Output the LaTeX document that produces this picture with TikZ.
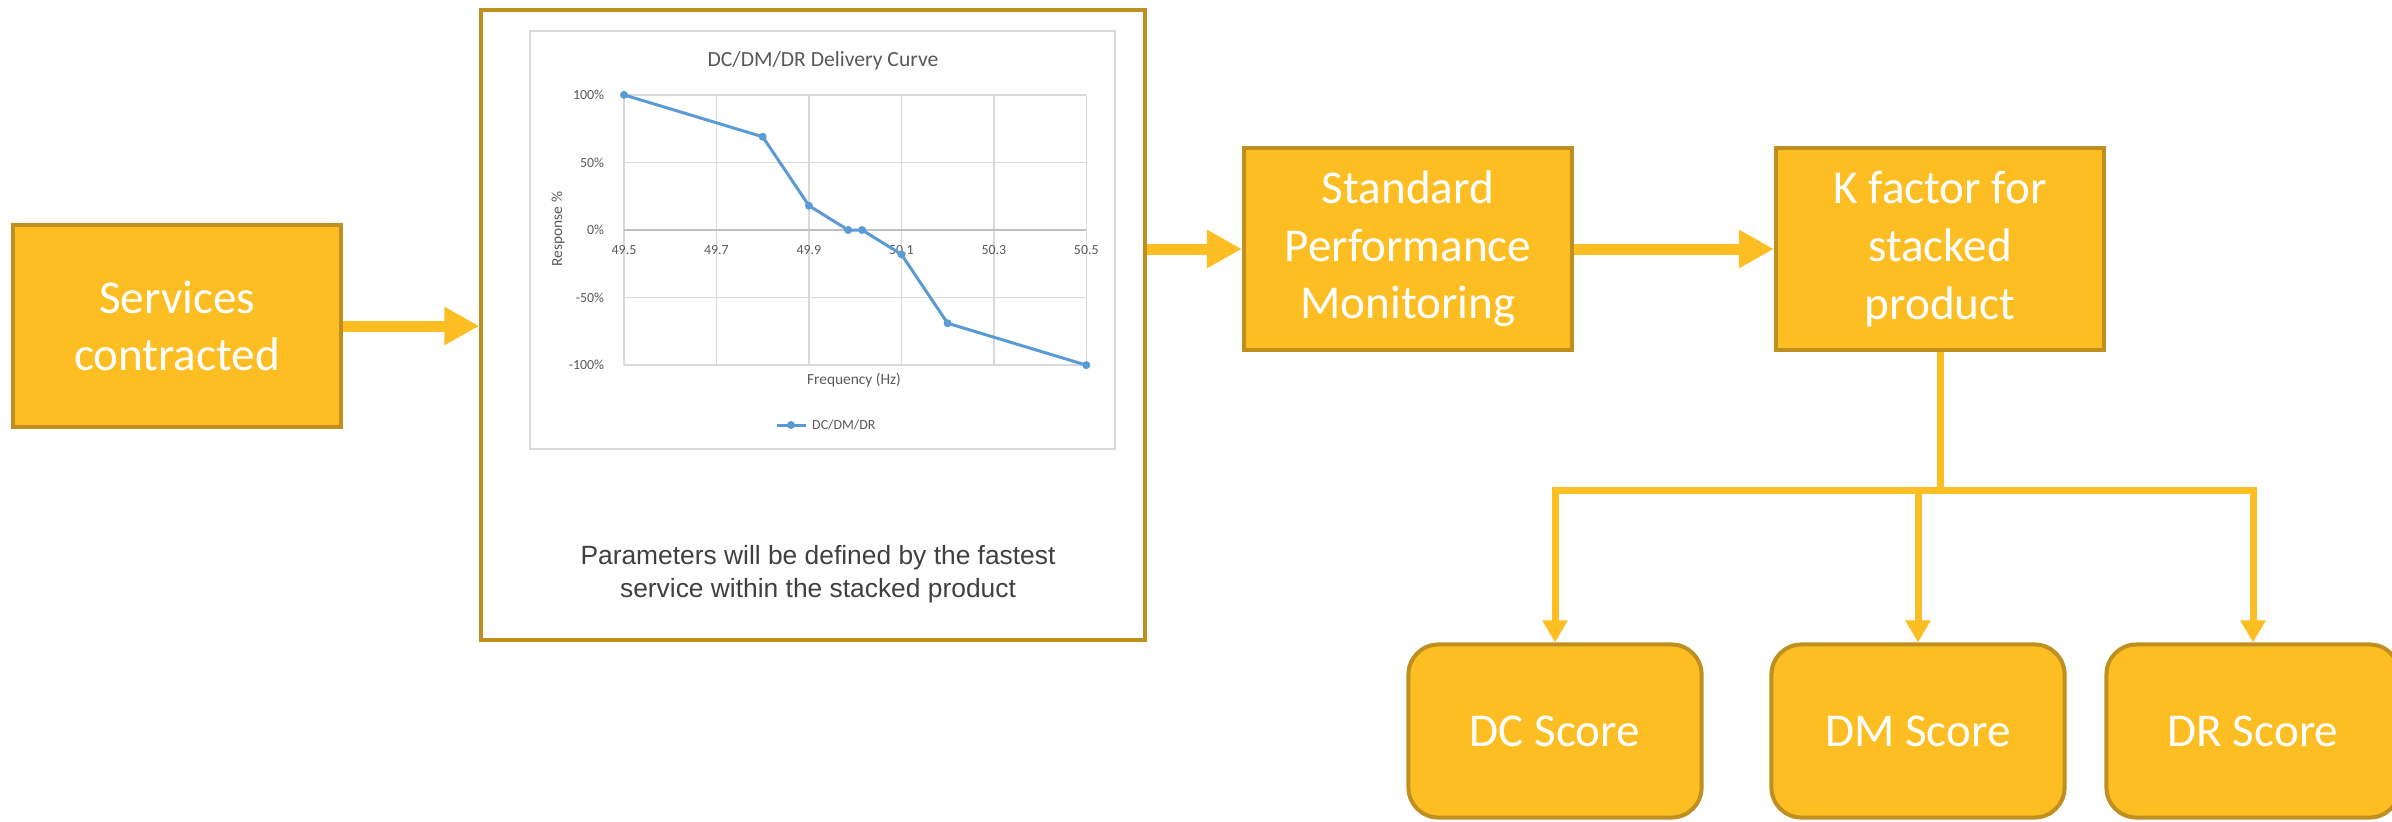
\documentclass[tikz,border=0pt]{standalone}
\usepackage{fontspec}
\setmainfont{Carlito}
\newfontfamily\capfont{Liberation Sans}
\usetikzlibrary{arrows.meta}

\definecolor{boxfill}{RGB}{253,190,35}
\definecolor{boxline}{RGB}{191,143,31}
\definecolor{curveblue}{RGB}{91,155,213}
\definecolor{gridgrey}{RGB}{217,217,217}
\definecolor{axisgrey}{RGB}{191,191,191}
\definecolor{labelgrey}{RGB}{89,89,89}
\definecolor{captiongrey}{RGB}{64,64,64}

\begin{document}
\begin{tikzpicture}[x=0.01cm,y=-0.01cm,
    block/.style={rectangle,draw=boxline,fill=boxfill,line width=0.04cm,
      text=white,align=center,inner sep=0pt,
      minimum width=3.28cm,minimum height=2.01cm,
      font=\fontsize{13.4}{16.4}\selectfont},
    score/.style={block,rounded corners=0.3cm,minimum width=2.93cm,minimum height=1.73cm},
    bigarrow/.style={draw=boxfill,line width=0.11cm,-{Triangle[length=0.35cm,width=0.36cm]}},
    branch/.style={draw=boxfill,line width=0.07cm},
    branchtip/.style={branch,-{Triangle[length=0.22cm,width=0.24cm]}},
    ticklabel/.style={text=labelgrey,inner sep=1pt,font=\fontsize{3.95}{4.7}\selectfont},
    axistitle/.style={text=labelgrey,inner sep=1pt,font=\fontsize{4.38}{5.2}\selectfont},
    charttitle/.style={text=labelgrey,inner sep=1pt,font=\fontsize{6.15}{7.4}\selectfont},
    caption/.style={text=captiongrey,align=center,inner sep=0pt,
      font=\capfont\fontsize{7.5}{9.4}\selectfont}]

  \useasboundingbox (0,0) rectangle (2392,821);

  \node[block] (svc) at (177,326) {Services\\contracted};
  \node[rectangle,draw=boxline,fill=white,line width=0.04cm,
    minimum width=6.63cm,minimum height=6.30cm] (chart) at (813,325) {};
  \node[block] (spm) at (1408,249) {Standard\\Performance\\Monitoring};
  \node[block] (kf) at (1940,249) {K factor for\\stacked\\product};
  \node[score] (dc) at (1555,731) {DC Score};
  \node[score] (dm) at (1918,731) {DM Score};
  \node[score] (dr) at (2253,731) {DR Score};
  \coordinate (fork) at (1940,490);

  \draw[gridgrey,line width=0.02cm] (530,31) rectangle (1115,449);
  \begin{scope}[shift={(624,230)},x=4.62cm,y=0.0135cm]
    \foreach \i in {0,...,5}
      \draw[gridgrey,line width=0.015cm] (\i*0.2,-100) -- (\i*0.2,100);
    \foreach \gy in {-100,-50,50,100}
      \draw[gridgrey,line width=0.015cm] (0,\gy) -- (1,\gy);
    \draw[axisgrey,line width=0.015cm] (0,0) -- (1,0);
    \foreach \gy/\lab in {100/100\%,50/50\%,0/0\%,-50/-50\%,-100/-100\%}
      \node[ticklabel,anchor=east] at (-0.034,\gy) {\lab};
    \foreach \i/\lab in {0/49.5,1/49.7,2/49.9,3/50.1,4/50.3,5/50.5}
      \node[ticklabel] at (\i*0.2,-15) {\lab};
    \draw[curveblue,line width=0.03cm,line join=round]
      (0,100) -- (0.3,69) -- (0.4,18) -- (0.485,0) -- (0.515,0)
      -- (0.6,-18) -- (0.7,-69) -- (1,-100);
    \foreach \p in {(0,100),(0.3,69),(0.4,18),(0.485,0),(0.515,0),(0.6,-18),(0.7,-69),(1,-100)}
      \fill[curveblue] \p circle (0.04cm);
  \end{scope}
  \node[charttitle] (title) at (823,61) {DC/DM/DR Delivery Curve};
  \node[axistitle] (xtitle) at (854,380) {Frequency (Hz)};
  \node[axistitle,rotate=90] (ytitle) at (558,229) {Response \%};
  \draw[curveblue,line width=0.03cm] (777,425) -- (806,425);
  \fill[curveblue] (791,425) circle (0.04cm);
  \node[ticklabel,anchor=west] (legend) at (808,425) {DC/DM/DR};
  \node[caption] (note) at (818,574) {Parameters will be defined by the fastest\\service within the stacked product};

  \draw[bigarrow] (svc.east) -- (svc.east -| chart.west);
  \draw[bigarrow] (spm.west -| chart.east) -- (spm.west);
  \draw[bigarrow] (spm.east) -- (kf.west);

  \draw[branch] (kf.south) -- (fork);
  \draw[branchtip] (fork) -| (dc.north);
  \draw[branchtip] (fork) -| (dm.north);
  \draw[branchtip] (fork) -| (dr.north);

\end{tikzpicture}
\end{document}
